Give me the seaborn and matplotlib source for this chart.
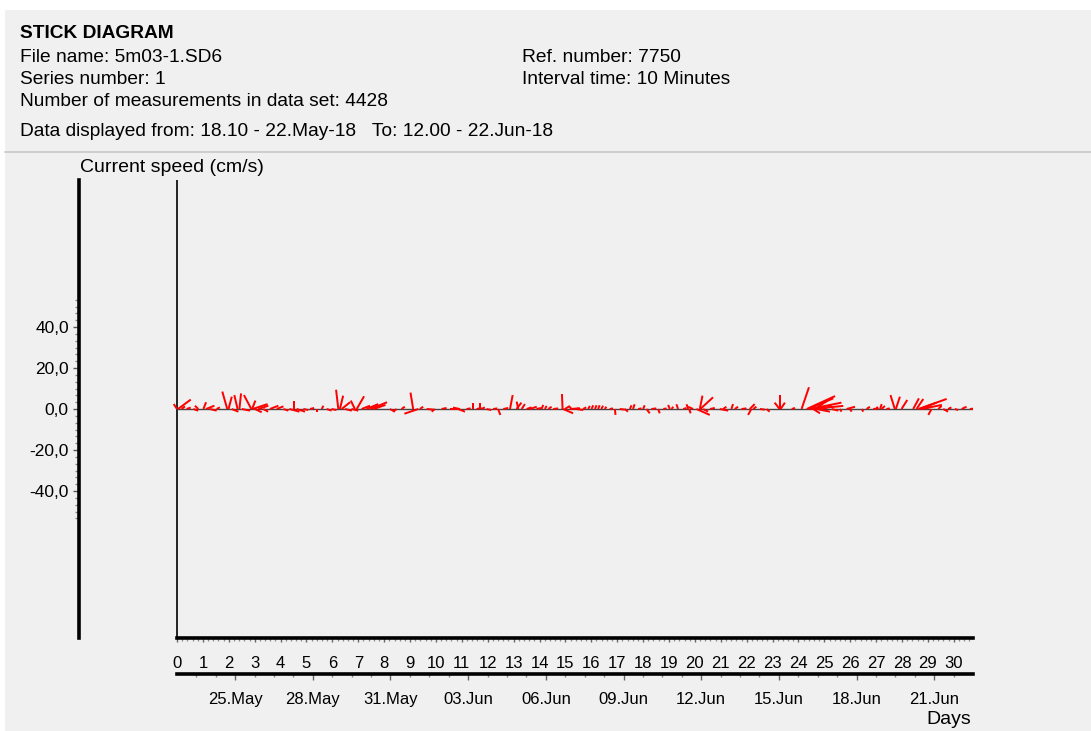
import numpy as np
import pandas as pd
import matplotlib
matplotlib.use("Agg")
import matplotlib.pyplot as plt
from matplotlib.patches import Rectangle
from matplotlib.lines import Line2D
from matplotlib.ticker import FixedLocator, FixedFormatter
import seaborn as sns

# ---------------- data ----------------
title = "STICK DIAGRAM"
header_left = ["File name: 5m03-1.SD6",
               "Series number: 1",
               "Number of measurements in data set: 4428",
               "Data displayed from: 18.10 - 22.May-18   To: 12.00 - 22.Jun-18"]
header_right = ["Ref. number: 7750", "Interval time: 10 Minutes"]

# time since start (days), east (u) and north (v) components in cm/s
t_days = [0.00, 0.04, 0.18, 0.37, 0.63, 0.82, 1.02, 1.12, 1.27, 1.53,
          1.94, 1.99, 2.11, 2.34, 2.41, 2.50, 2.87, 2.90, 2.92, 3.01,
          3.14, 3.33, 3.59, 3.85, 4.11, 4.34, 4.52, 4.62, 4.88, 5.14,
          5.39, 5.59, 5.78, 5.97, 6.23, 6.29, 6.36, 6.49, 6.74, 6.87,
          6.94, 7.13, 7.32, 7.47, 7.60, 8.22, 8.48, 8.67, 9.12, 9.32,
          9.38, 9.64, 9.96, 10.22, 10.54, 10.86, 10.92, 11.18, 11.44, 11.57,
          11.70, 11.76, 11.95, 12.21, 12.40, 12.60, 12.86, 13.11, 13.18, 13.31,
          13.50, 13.63, 13.88, 14.08, 14.21, 14.34, 14.53, 14.89, 14.91, 14.98,
          15.17, 15.23, 15.36, 15.43, 15.68, 15.88, 16.01, 16.14, 16.26, 16.39,
          16.52, 16.71, 16.91, 17.10, 17.29, 17.49, 17.61, 17.81, 18.00, 18.13,
          18.32, 18.58, 18.78, 19.03, 19.10, 19.35, 19.55, 19.74, 19.78, 19.93,
          20.06, 20.19, 20.21, 20.32, 20.58, 20.96, 21.09, 21.41, 21.54, 21.80,
          22.12, 22.18, 22.25, 22.51, 22.76, 23.27, 23.29, 23.31, 23.74, 24.12,
          24.32, 24.38, 24.44, 24.51, 24.57, 24.64, 24.70, 24.96, 25.28, 25.60,
          25.86, 25.99, 26.44, 26.63, 26.89, 27.08, 27.15, 27.21, 27.40, 27.72,
          27.76, 27.98, 28.43, 28.56, 28.63, 28.69, 28.76, 28.95, 29.14, 29.40,
          29.59, 29.78, 30.04, 30.30, 30.62]
u_east = [-1.6, 6.2, 1.6, 2.0, 2.4, -1.6, 1.3, 4.1, 3.3, 1.6,
          -2.4, 1.6, 3.3, -1.6, 0.8, 4.1, -3.6, 1.6, 7.3, 3.3,
          4.9, 2.4, 4.1, 3.3, 2.4, 4.9, 0.0, 4.1, 2.4, 2.0,
          0.0, 0.8, 2.4, 2.4, -1.1, 1.6, 4.1, 3.3, 3.3, -2.0,
          3.6, 4.1, 5.7, 8.1, 5.7, 2.4, -1.6, 1.6, -1.3, -6.8,
          1.6, 3.3, -1.6, 2.4, 4.9, 3.3, -3.3, 2.0, 0.0, 2.4,
          0.0, 1.6, 2.4, 2.0, 1.1, 2.4, 1.3, 2.4, -0.8, 1.6,
          2.4, 3.3, 2.4, 0.8, 0.8, 1.6, 2.4, -0.3, 4.9, 2.4,
          4.9, -0.8, 2.4, 3.3, 1.6, 0.8, 0.8, 0.8, 0.8, 0.8,
          0.8, 1.6, 0.3, 2.4, 1.6, 0.8, 0.8, 1.6, 0.8, 1.6,
          2.4, 0.8, 1.6, -0.8, 0.8, -0.8, 1.6, -0.8, 0.7, -2.4,
          6.5, 1.3, 6.2, 2.4, 2.4, 4.1, 1.6, 0.8, 1.6, 2.4,
          2.4, -1.6, 1.6, 2.4, 1.6, -2.4, 0.0, 2.1, 1.6, 3.6,
          13.8, 12.2, 15.4, 15.4, 3.3, 6.5, 6.5, 4.1, 3.3, 0.8,
          4.1, 0.8, 0.8, 1.6, 2.4, -0.8, 0.8, 1.6, 1.6, -2.1,
          2.0, 2.8, 2.8, 3.3, 13.8, 8.1, 9.8, 1.6, -1.6, 1.6,
          2.4, 1.6, 1.6, 2.4, 6.5]
v_north = [2.4, 4.6, 1.3, 0.7, -0.8, 1.6, 3.3, 1.6, -0.8, 0.8,
           8.5, 6.0, -1.3, 6.8, 7.6, -0.8, 6.8, 4.1, 2.4, -1.6,
           1.6, -1.3, 1.6, 1.3, -0.8, -1.3, 4.1, -1.3, -0.5, 0.5,
           -1.3, 1.6, -0.8, -0.5, 9.4, 6.5, 3.3, -0.8, -0.8, 4.1,
           6.2, 1.6, 2.4, 3.3, 2.0, -1.3, -1.3, 1.1, 8.0, -2.3,
           1.1, -0.3, -1.3, 0.5, 0.0, -1.3, 0.7, 0.3, 2.8, 0.5,
           3.1, 0.8, -0.5, 0.3, -2.9, 0.5, 6.8, 3.1, 3.6, 2.4,
           0.8, 1.1, 0.5, 2.0, 1.5, 1.1, 0.3, 7.3, -2.1, 1.5,
           0.3, 1.1, 0.3, -0.5, 0.8, 1.5, 1.8, 1.8, 1.8, 1.6,
           1.1, 0.3, -2.9, -0.3, -1.3, 1.8, 2.3, 0.3, 1.8, -2.1,
           0.3, -2.1, 0.3, 2.0, 1.1, 2.3, 0.5, 2.3, -2.1, 1.1,
           -2.9, 6.5, 5.7, -1.3, 0.5, -0.8, 1.1, 2.4, 1.1, 0.3,
           2.4, -2.9, 1.1, -0.3, -1.3, 3.1, 6.8, 3.1, 0.5, 10.6,
           6.3, 5.2, 3.1, 1.5, -2.1, 4.4, -1.3, 1.6, -0.8, -1.3,
           1.1, -1.3, -1.3, 1.1, 0.3, 1.1, 2.4, 1.5, 0.3, 6.8,
           6.0, 4.4, 5.2, 4.9, 4.9, 3.1, 2.0, 1.5, -2.9, 1.5,
           -1.3, 0.8, -0.5, 1.1, 0.7]

series_end_day = 30.74            # 22.May 18:10 -> 22.Jun 12:00
day_ticks = list(range(0, 31))
y_major = [-40, -20, 0, 20, 40]
y_labels = ["-40,0", "-20,0", "0,0", "20,0", "40,0"]
first_date_day = 2.243            # 25.May 00:00 relative to start
date_labels = ["25.May", "28.May", "31.May", "03.Jun", "06.Jun",
               "09.Jun", "12.Jun", "15.Jun", "18.Jun", "21.Jun"]

df = pd.DataFrame({"t": t_days, "u": u_east, "v": v_north})

# ---------------- style ----------------
sns.set_theme(style="white")
plt.rcParams["font.family"] = ["Liberation Sans", "DejaVu Sans"]

W, H = 1091, 731
fig = plt.figure(figsize=(W / 100, H / 100), dpi=100)
fig.patch.set_facecolor("white")
bg = "#f0f0f0"
fig.patches.append(Rectangle((5 / W, 0), 1 - 5 / W, (H - 10) / H,
                             transform=fig.transFigure, facecolor=bg,
                             edgecolor="none", zorder=-10))
fig.lines.append(Line2D([5 / W, 1], [1 - 152 / H, 1 - 152 / H],
                        transform=fig.transFigure, color="#c8c8c8", lw=1.2))

# header texts
hfs = 13.8
fig.text(20 / W, 1 - 34 / H, title, fontsize=hfs, fontweight="bold",
         ha="left", va="center", color="black")
for s, y in zip(header_left, [57, 79, 101, 131]):
    fig.text(20 / W, 1 - y / H, s, fontsize=hfs, ha="left", va="center",
             color="black")
for s, y in zip(header_right, [57, 79]):
    fig.text(522 / W, 1 - y / H, s, fontsize=hfs, ha="left", va="center",
             color="black")

# ---------------- main axes ----------------
x_left_px, x_zero_px, x_right_px = 79, 177, 973
y_top_px, y_bot_px = 180, 638
ax = fig.add_axes([x_left_px / W, (H - y_bot_px) / H,
                   (x_right_px - x_left_px) / W, (y_bot_px - y_top_px) / H])
ax.set_facecolor("none")
px_per_day = (x_right_px - x_zero_px) / series_end_day
ax.set_xlim(-(x_zero_px - x_left_px) / px_per_day, series_end_day)
px_per_unit = 2.05
ymax = (y_bot_px - y_top_px) / 2 / px_per_unit
ax.set_ylim(-ymax, ymax)

for s in ["top", "right"]:
    ax.spines[s].set_visible(False)
ax.spines["left"].set_linewidth(2.6)
ax.spines["left"].set_color("black")
ax.spines["bottom"].set_linewidth(2.6)
ax.spines["bottom"].set_color("black")
ax.spines["bottom"].set_bounds(0, series_end_day)

# inner vertical line and zero baseline
ax.axvline(0, color="black", lw=1.2, zorder=2)
sns.lineplot(x=[0, series_end_day], y=[0, 0], ax=ax, color="#444444",
             lw=1.0, zorder=3)

# sticks
ax.quiver(df["t"], np.zeros(len(df)), df["u"], df["v"], angles="uv",
          scale_units="y", scale=1, color="#ff0000", width=0.0022,
          headwidth=0, headlength=0, headaxislength=0, pivot="tail",
          zorder=4)

# y ticks
ax.yaxis.set_major_locator(FixedLocator(y_major))
ax.yaxis.set_major_formatter(FixedFormatter(y_labels))
minor_y = [k * 20 / 6 for k in range(-16, 17) if k % 6 != 0]
ax.yaxis.set_minor_locator(FixedLocator(minor_y))
ax.tick_params(axis="y", which="major", direction="out", length=4.3,
               width=1.0, color="#555555", labelsize=12.5, pad=3,
               labelcolor="black", left=True)
ax.tick_params(axis="y", which="minor", direction="out", length=2.8,
               width=1.0, color="#888888", left=True)

# day ticks
ax.xaxis.set_major_locator(FixedLocator(day_ticks))
ax.xaxis.set_major_formatter(FixedFormatter([str(d) for d in day_ticks]))
minor_x = [k * 0.2 for k in range(0, 154) if k % 5 != 0]
ax.xaxis.set_minor_locator(FixedLocator(minor_x))
ax.tick_params(axis="x", which="major", direction="out", length=3.2,
               width=1.0, color="#666666", labelsize=12, pad=9.5,
               labelcolor="black", bottom=True)
ax.tick_params(axis="x", which="minor", direction="out", length=1.8,
               width=0.9, color="#888888", bottom=True)

# date axis
sec = ax.secondary_xaxis((y_bot_px - 674) / (y_bot_px - y_top_px))
sec.spines["bottom"].set_linewidth(2.6)
sec.spines["bottom"].set_color("black")
sec.spines["bottom"].set_bounds(0, series_end_day)
date_pos = [first_date_day + 3 * i for i in range(len(date_labels))]
sec.xaxis.set_major_locator(FixedLocator(date_pos))
sec.xaxis.set_major_formatter(FixedFormatter(date_labels))
minor_d = [first_date_day + 0.75 * k for k in range(-2, 39)
           if k % 4 != 0 and 0 < first_date_day + 0.75 * k < series_end_day]
sec.xaxis.set_minor_locator(FixedLocator(minor_d))
sec.tick_params(axis="x", which="major", direction="out", length=4.5,
                width=1.0, color="#666666", labelsize=12, pad=8.5,
                labelcolor="black")
sec.tick_params(axis="x", which="minor", direction="out", length=2.5,
                width=1.0, color="#888888")
sec.set_facecolor("none")

# axis titles
fig.text(80 / W, 1 - 168 / H, "Current speed (cm/s)", fontsize=14,
         ha="left", va="center", color="black")
fig.text(971 / W, 1 - 720 / H, "Days", fontsize=14, ha="right",
         va="center", color="black")

fig.savefig("out.png", dpi=100, facecolor=fig.get_facecolor())
